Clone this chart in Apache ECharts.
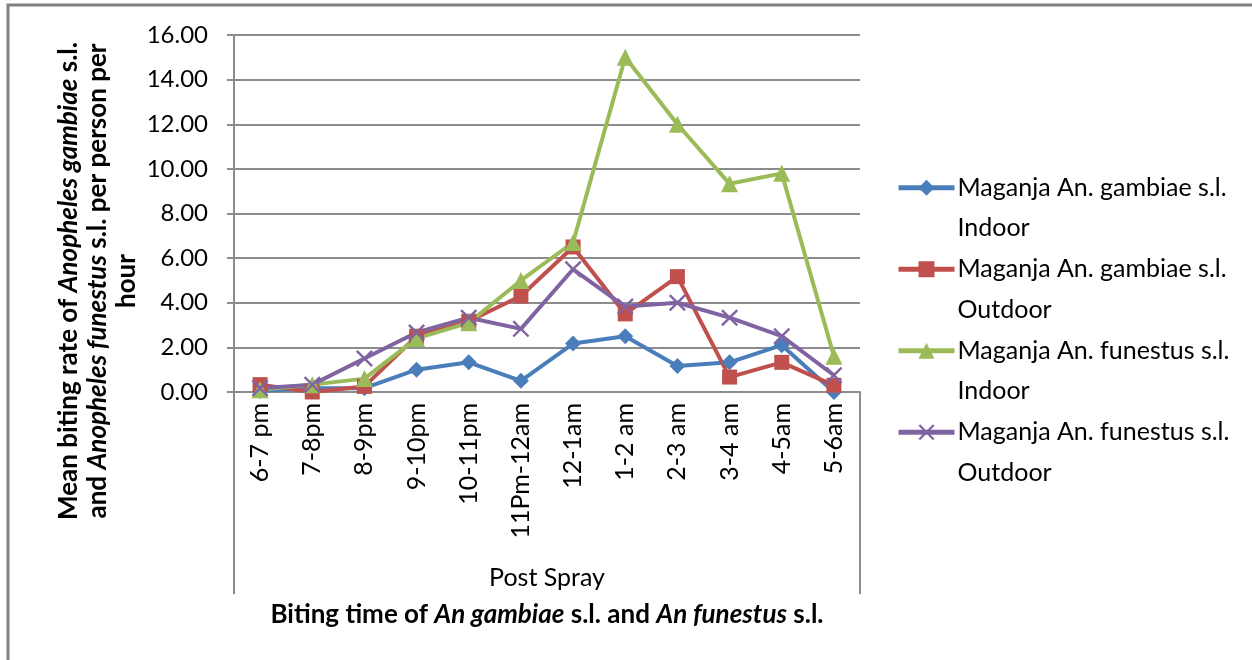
<!DOCTYPE html>
<html>
<head>
<meta charset="utf-8">
<script src="https://cdn.jsdelivr.net/npm/echarts@6/dist/echarts.min.js"></script>
<style>
  html, body { margin: 0; padding: 0; background: #fff; }
  #main { width: 1252px; height: 660px; }
</style>
</head>
<body>
<div id="main"></div>
<script>
// biting times (post spray)
var categories = ['6-7 pm', '7-8pm', '8-9pm', '9-10pm', '10-11pm', '11Pm-12am',
  '12-1am', '1-2 am', '2-3 am', '3-4 am', '4-5am', '5-6am'];

var gambiaeIndoor = [0.05, 0.17, 0.17, 1.0, 1.33, 0.5, 2.17, 2.5, 1.17, 1.33, 2.1, 0.0];
var gambiaeOutdoor = [0.33, 0.0, 0.25, 2.5, 3.17, 4.3, 6.5, 3.5, 5.17, 0.67, 1.33, 0.3];
var funestusIndoor = [0.1, 0.33, 0.6, 2.4, 3.1, 5.0, 6.7, 15.0, 12.0, 9.33, 9.8, 1.6];
var funestusOutdoor = [0.17, 0.33, 1.5, 2.67, 3.33, 2.83, 5.5, 3.83, 4.0, 3.33, 2.5, 0.75];

var seriesNames = [
  'Maganja An. gambiae s.l.\nIndoor',
  'Maganja An. gambiae s.l.\nOutdoor',
  'Maganja An. funestus s.l.\nIndoor',
  'Maganja An. funestus s.l.\nOutdoor'
];

var colors = ['#4a7ebb', '#c0504d', '#9bbb59', '#8064a2'];
var symbols = ['diamond', 'rect', 'triangle',
  'path://M0,1L1,0L5,4L9,0L10,1L6,5L10,9L9,10L5,6L1,10L0,9L4,5Z'];
var symbolSizes = [16, 15, 17, 17];

var chart = echarts.init(document.getElementById('main'));

var gridLeft = 234, gridRight = 392, gridTop = 35, gridBottom = 268;
var font = 'Lato';

function makeSeries(i, data) {
  return {
    name: seriesNames[i],
    type: 'line',
    data: data,
    symbol: symbols[i],
    symbolSize: symbolSizes[i],
    showAllSymbol: true,
    lineStyle: { width: 4, color: colors[i] },
    itemStyle: { color: colors[i] },
    emphasis: { disabled: true },
    animation: false
  };
}

var option = {
  color: colors,
  animation: false,
  textStyle: { fontFamily: font },
  grid: { left: gridLeft, right: gridRight, top: gridTop, bottom: gridBottom },
  legend: {
    orient: 'vertical',
    left: 896,
    top: 127,
    padding: 0,
    itemWidth: 56,
    itemHeight: 20,
    itemGap: -40,
    lineStyle: { width: 5 },
    formatter: function (name) { return '\n' + name; },
    textStyle: { fontFamily: font, fontSize: 25, color: '#000', lineHeight: 40.5, padding: [0, 0, 0, -2] },
    data: seriesNames
  },
  xAxis: {
    type: 'category',
    data: categories,
    boundaryGap: true,
    axisLine: { lineStyle: { color: '#8c8c8c', width: 2 } },
    axisTick: { show: false },
    axisLabel: {
      rotate: 90,
      margin: 11,
      interval: 0,
      fontFamily: font,
      fontSize: 25,
      color: '#000'
    }
  },
  yAxis: {
    type: 'value',
    min: 0,
    max: 16,
    interval: 2,
    axisLine: { show: true, lineStyle: { color: '#8c8c8c', width: 2 } },
    axisTick: { show: true, length: 7, lineStyle: { color: '#8c8c8c', width: 2 } },
    splitLine: { lineStyle: { color: '#8c8c8c', width: 2 } },
    axisLabel: {
      margin: 26,
      fontFamily: font,
      fontSize: 24,
      color: '#000',
      formatter: function (v) { return v.toFixed(2); }
    }
  },
  graphic: [
    {
      type: 'rect',
      shape: { x: 8, y: 5, width: 1300, height: 700 },
      style: { fill: 'none', stroke: '#808080', lineWidth: 3 },
      silent: true
    },
    {
      type: 'line',
      shape: { x1: gridLeft, y1: 392, x2: gridLeft, y2: 594 },
      style: { stroke: '#8c8c8c', lineWidth: 2 },
      silent: true
    },
    {
      type: 'line',
      shape: { x1: 1252 - gridRight, y1: 392, x2: 1252 - gridRight, y2: 594 },
      style: { stroke: '#8c8c8c', lineWidth: 2 },
      silent: true
    },
    {
      type: 'text',
      x: 547,
      y: 578,
      style: {
        text: 'Post Spray',
        fontFamily: font,
        fontSize: 25,
        fill: '#000',
        align: 'center',
        verticalAlign: 'middle'
      },
      silent: true
    },
    {
      type: 'text',
      x: 547,
      y: 615,
      style: {
        text: '{b|Biting time of }{bi|An gambiae}{b| s.l. and }{bi|An funestus}{b| s.l.}',
        align: 'center',
        verticalAlign: 'middle',
        rich: {
          b: { fontFamily: font, fontSize: 26, fontWeight: 'bold', color: '#000' },
          bi: { fontFamily: font, fontSize: 26, fontWeight: 'bold', fontStyle: 'italic', color: '#000' }
        }
      },
      silent: true
    },
    {
      type: 'text',
      x: 98,
      y: 281,
      rotation: Math.PI / 2,
      style: {
        text: '{b|Mean biting rate of }{bi|Anopheles gambiae}{b| s.l.}\n' +
              '{b|and }{bi|Anopheles funestus}{b| s.l. per person per}\n' +
              '{b|hour}',
        align: 'center',
        verticalAlign: 'middle',
        rich: {
          b: { fontFamily: font, fontSize: 26, fontWeight: 'bold', color: '#000', lineHeight: 29, align: 'center' },
          bi: { fontFamily: font, fontSize: 26, fontWeight: 'bold', fontStyle: 'italic', color: '#000', lineHeight: 29, align: 'center' }
        }
      },
      silent: true
    }
  ],
  series: [
    makeSeries(0, gambiaeIndoor),
    makeSeries(1, gambiaeOutdoor),
    makeSeries(2, funestusIndoor),
    makeSeries(3, funestusOutdoor)
  ]
};

chart.setOption(option);
</script>
</body>
</html>
